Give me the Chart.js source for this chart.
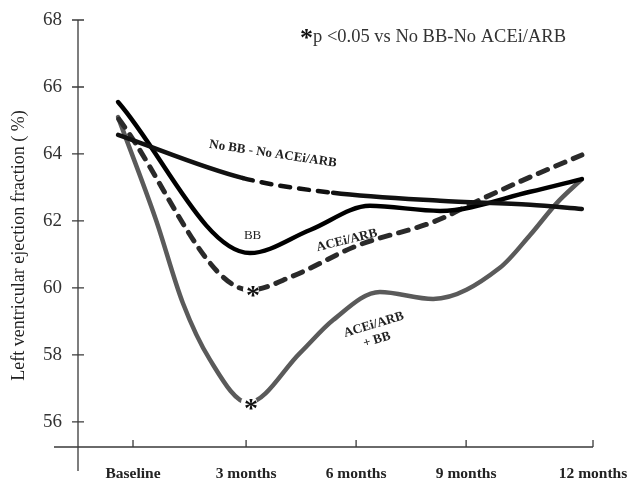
<!DOCTYPE html>
<html>
<head>
<meta charset="utf-8">
<script src="https://cdn.jsdelivr.net/npm/chart.js@4.4.1/dist/chart.umd.min.js"></script>
<style>
  body { margin: 0; background: #fff; }
  #wrap { width: 630px; height: 482px; }
</style>
</head>
<body>
<div id="wrap"><canvas id="chart" width="630" height="482"></canvas></div>
<script>
// x axis ticks (months, placed as on the original figure)
const tickLabels = ["Baseline", "3 months", "6 months", "9 months", "12 months"]
const tickPos = [0, 2.95, 5.82, 8.69, 12]
const yTicks = [56, 58, 60, 62, 64, 66, 68]

// curves (x in months, y = LVEF %)
const noBbX = [-0.39, 2.87, 5.22, 8.01, 10.36, 11.71]
const noBbY = [64.57, 63.28, 62.84, 62.6, 62.48, 62.36]

const bbX = [-0.39, 3.05, 4.62, 6.18, 8.01, 10.36, 11.71]
const bbY = [65.55, 61.04, 61.73, 62.45, 62.3, 62.87, 63.25]

const aceX = [-0.37, 3.05, 4.18, 5.82, 7.9, 9.05, 10.36, 11.71]
const aceY = [65.04, 59.94, 60.36, 61.25, 62.0, 62.63, 63.31, 63.97]

const aceBbX = [-0.39, 0.6, 1.3, 2.01, 3.0, 4.36, 5.22, 6.44, 7.83, 9.57, 10.36, 11.06, 11.71]
const aceBbY = [65.1, 62.03, 59.55, 57.85, 56.57, 58.06, 59.04, 59.88, 59.67, 60.6, 61.58, 62.54, 63.25]

const pts = (xs, ys) => xs.map((x, i) => ({ x: x, y: ys[i] }))

const SERIF = '"Liberation Serif", "Times New Roman", serif'

// curve labels, in data coordinates
const notes = [
  { text: "No BB - No ACEi/ARB", x: 3.65, y: 64.0, rot: 8.5, bold: true },
  { text: "BB", x: 3.12, y: 61.55, rot: 0, bold: false },
  { text: "ACEi/ARB", x: 5.58, y: 61.42, rot: -14, bold: true },
  { text: "ACEi/ARB", x: 6.28, y: 58.9, rot: -17, bold: true },
  { text: "+ BB", x: 6.36, y: 58.45, rot: -17, bold: true }
]

// which point of which curve gets a star
const stars = [{ ds: 2, i: 1 }, { ds: 3, i: 4 }]

const axesPlugin = {
  id: "axes",
  afterDraw(chart) {
    const { ctx, chartArea: a, scales: { x, y } } = chart
    ctx.save()
    ctx.strokeStyle = "#3a3a3a"
    ctx.lineWidth = 1.3
    ctx.beginPath()
    // y axis runs a bit past the x axis, x axis a bit past the y axis
    ctx.moveTo(a.left, a.top); ctx.lineTo(a.left, a.bottom + 24)
    ctx.moveTo(a.left - 24, a.bottom); ctx.lineTo(a.right, a.bottom)
    yTicks.forEach(v => {
      const py = y.getPixelForValue(v)
      ctx.moveTo(a.left - 6, py); ctx.lineTo(a.left + 6, py)
    })
    tickPos.forEach(v => {
      const px = x.getPixelForValue(v)
      ctx.moveTo(px, a.bottom - 7); ctx.lineTo(px, a.bottom)
    })
    ctx.stroke()

    // y axis title
    ctx.fillStyle = "#222"
    ctx.font = "18px " + SERIF
    ctx.textAlign = "center"
    ctx.textBaseline = "middle"
    ctx.save()
    ctx.translate(19, (a.top + a.bottom + 24) / 2)
    ctx.rotate(-Math.PI / 2)
    ctx.fillText("Left ventricular ejection fraction ( %)", 0, 0)
    ctx.restore()

    // curve labels
    notes.forEach(n => {
      ctx.save()
      ctx.translate(x.getPixelForValue(n.x), y.getPixelForValue(n.y))
      ctx.rotate(n.rot * Math.PI / 180)
      ctx.font = (n.bold ? "bold 13px " : "13px ") + SERIF
      ctx.fillText(n.text, 0, 0)
      ctx.restore()
    })

    // significance stars on the 3 month points
    stars.forEach(s => {
      const p = chart.getDatasetMeta(s.ds).data[s.i]
      ctx.fillStyle = "#fff"
      ctx.beginPath()
      ctx.arc(p.x + 1, p.y, 8, 0, Math.PI * 2)
      ctx.fill()
      ctx.fillStyle = "#111"
      ctx.font = "bold 28px " + SERIF
      ctx.textAlign = "center"
      ctx.textBaseline = "alphabetic"
      ctx.fillText("*", p.x + 3, p.y + 14)
    })

    // note at the top
    ctx.textAlign = "left"
    ctx.fillStyle = "#111"
    ctx.font = "bold 26px " + SERIF
    ctx.fillText("*", 300, 46)
    ctx.fillStyle = "#333"
    ctx.font = "18.5px " + SERIF
    ctx.fillText("p <0.05 vs No BB-No ACEi/ARB", 313, 42)
    ctx.restore()
  }
}

const dashAt = [10, 9]

new Chart(document.getElementById("chart"), {
  type: "line",
  data: {
    datasets: [
      {
        label: "No BB - No ACEi/ARB",
        data: pts(noBbX, noBbY),
        borderColor: "#111",
        borderWidth: 4.5,
        segment: { borderDash: c => c.p0DataIndex === 1 ? dashAt : undefined }
      },
      {
        label: "BB",
        data: pts(bbX, bbY),
        borderColor: "#000",
        borderWidth: 4.5
      },
      {
        label: "ACEi/ARB",
        data: pts(aceX, aceY),
        borderColor: "#2a2a2a",
        borderWidth: 5,
        borderDash: dashAt
      },
      {
        label: "ACEi/ARB + BB",
        data: pts(aceBbX, aceBbY),
        borderColor: "#5a5a5a",
        borderWidth: 4.5
      }
    ]
  },
  options: {
    responsive: false,
    animation: false,
    layout: { padding: { top: 20, right: 37, left: 0, bottom: 0 } },
    elements: {
      point: { radius: 0 },
      line: { cubicInterpolationMode: "monotone", borderCapStyle: "round", fill: false }
    },
    plugins: {
      legend: { display: false },
      tooltip: { enabled: false }
    },
    scales: {
      x: {
        type: "linear",
        min: -1.435,
        max: 12,
        afterFit: s => { s.height = 35; s.paddingLeft = 0; s.paddingRight = 0 },
        afterBuildTicks: s => { s.ticks = tickPos.map(v => ({ value: v })) },
        grid: { display: false, drawTicks: false },
        border: { display: false },
        ticks: {
          padding: 18,
          color: "#222",
          font: { family: SERIF, size: 15.5, weight: "bold" },
          callback: (v, i) => tickLabels[i]
        }
      },
      y: {
        min: 55.25,
        max: 68,
        afterFit: s => { s.width = 78; s.paddingTop = 0; s.paddingBottom = 0 },
        afterBuildTicks: s => { s.ticks = yTicks.map(v => ({ value: v })) },
        grid: { display: false, drawTicks: false },
        border: { display: false },
        ticks: {
          padding: 16,
          color: "#333",
          font: { family: SERIF, size: 19 }
        }
      }
    }
  },
  plugins: [axesPlugin]
})
</script>
</body>
</html>
